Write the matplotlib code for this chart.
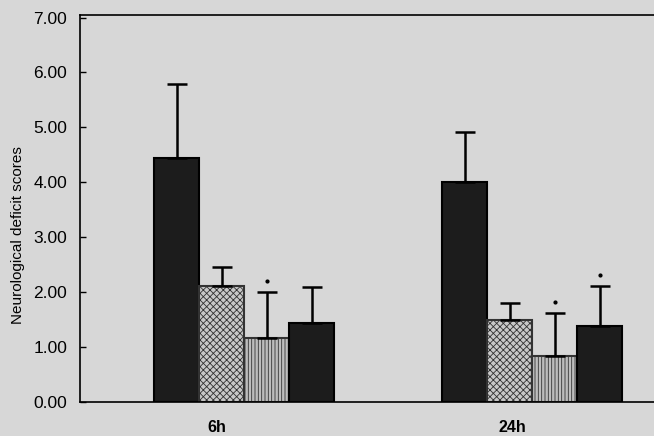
import matplotlib
matplotlib.use("Agg")
import matplotlib.pyplot as plt
import numpy as np

groups = ["6h", "24h"]
series_names = ["Ischemia-reperfusion", "TL low", "TL mid", "TL high"]
means = {
    "6h":  [4.44, 2.11, 1.17, 1.44],
    "24h": [4.00, 1.49, 0.84, 1.38],
}
errors = {
    "6h":  [1.35, 0.35, 0.83, 0.65],
    "24h": [0.92, 0.31, 0.78, 0.73],
}
significant = {
    "6h":  [False, False, True, False],
    "24h": [False, False, True, True],
}
yticks = [0, 1, 2, 3, 4, 5, 6, 7]

bg = "#d7d7d7"
plt.rcParams["hatch.linewidth"] = 0.6
fig = plt.figure(figsize=(6.54, 4.36), dpi=100, facecolor=bg)
ax = fig.add_axes([0.122, 0.078, 0.878, 0.888])
ax.set_facecolor(bg)

styles = [
    dict(facecolor="#1c1c1c", hatch=None, edgecolor="black"),
    dict(facecolor="#c8c8c8", hatch="xxxxx", edgecolor="#333333"),
    dict(facecolor="#bdbdbd", hatch="|||||", edgecolor="#333333"),
    dict(facecolor="#1c1c1c", hatch=None, edgecolor="black"),
]

centers = [3.65, 10.05]
offsets = [-1.5, -0.5, 0.5, 1.5]
for gi, g in enumerate(groups):
    for si in range(4):
        x = centers[gi] + offsets[si]
        st = styles[si]
        ax.bar(x, means[g][si], width=1.0, color=st["facecolor"],
               edgecolor=st["edgecolor"], hatch=st["hatch"], linewidth=1.5,
               zorder=2)
        ax.errorbar(x, means[g][si], yerr=[[0], [errors[g][si]]], fmt="none",
                    ecolor="black", elinewidth=1.8, capsize=7, capthick=1.8,
                    zorder=3)
        if significant[g][si]:
            ax.plot(x, means[g][si] + errors[g][si] + 0.2, marker="o",
                    markersize=2, color="black", zorder=3)

ax.set_xlim(0, 12.75)
ax.set_ylim(0, 7.05)
ax.set_yticks(yticks)
ax.set_yticklabels([f"{v:.2f}" for v in yticks], fontsize=12.5,
                   family="Liberation Sans")
ax.set_xticks([centers[0] - 0.6, centers[1] - 0.45])
ax.set_xticklabels(groups, fontsize=11.5, fontweight="bold",
                   family="Liberation Sans")
ax.tick_params(axis="y", direction="in", length=4, width=1, pad=9)
ax.tick_params(axis="x", length=0, pad=13)
ax.set_ylabel("Neurological deficit scores", fontsize=11,
              family="Liberation Sans")
ax.yaxis.set_label_coords(-0.095, 0.43)
for side in ["left", "bottom", "top"]:
    ax.spines[side].set_linewidth(1.2)
ax.spines["right"].set_visible(False)

fig.savefig("out.png", dpi=100, facecolor=bg)
